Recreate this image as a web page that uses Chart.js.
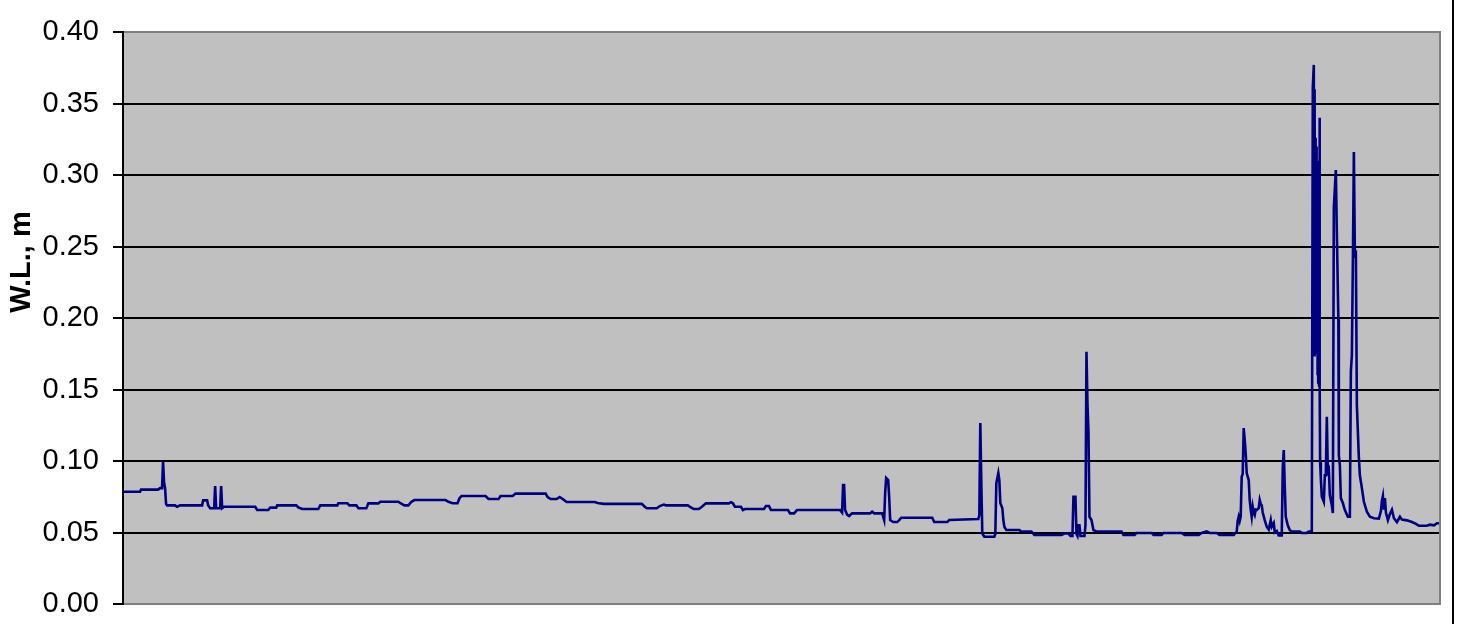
<!DOCTYPE html>
<html>
<head>
<meta charset="utf-8">
<script src="https://cdn.jsdelivr.net/npm/chart.js@4.4.1/dist/chart.umd.min.js"></script>
<style>
  body { margin: 0; background: #fff; }
  canvas { display: block; }
</style>
</head>
<body>
<canvas id="wl" width="1457" height="624"></canvas>
<script>
// sample number along the record
const samples = [
  0, 17, 18, 35, 37, 39, 40, 41, 42, 43, 44, 52, 54, 57, 79, 80, 84, 85, 87, 91,
  92, 93, 97, 98, 99, 101, 132, 134, 145, 147, 153, 154, 173, 175, 179, 195, 197, 214, 215, 224,
  226, 233, 235, 243, 245, 255, 257, 275, 277, 281, 285, 288, 291, 322, 325, 329, 334, 336, 338, 362,
  365, 375, 377, 389, 392, 422, 424, 427, 433, 436, 439, 443, 471, 474, 480, 518, 521, 523, 533, 536,
  540, 542, 564, 567, 570, 575, 578, 582, 605, 607, 609, 611, 617, 619, 621, 640, 642, 645, 647, 664,
  666, 670, 673, 716, 718, 719, 720, 721, 723, 725, 728, 746, 748, 750, 758, 760, 761, 762, 764, 765,
  766, 769, 773, 775, 777, 808, 810, 823, 825, 854, 855, 856, 857, 858, 860, 870, 871, 872, 874, 875,
  876, 878, 879, 880, 882, 895, 897, 907, 910, 937, 940, 944, 946, 948, 949, 951, 952, 953, 954, 955,
  956, 960, 961, 962, 963, 964, 965, 967, 969, 972, 997, 999, 1010, 1012, 1027, 1029, 1037, 1039, 1057, 1060,
  1074, 1077, 1082, 1085, 1092, 1095, 1109, 1112, 1113, 1114, 1115, 1116, 1117, 1118, 1119, 1120, 1121, 1122, 1124, 1125,
  1126, 1127, 1128, 1129, 1130, 1131, 1132, 1134, 1135, 1136, 1137, 1138, 1140, 1142, 1144, 1146, 1147, 1149, 1150, 1152,
  1154, 1157, 1158, 1159, 1160, 1161, 1163, 1165, 1167, 1175, 1177, 1182, 1184, 1187, 1188, 1189, 1189.4, 1189.8, 1190.2, 1190.6,
  1191, 1191.4, 1191.8, 1192.2, 1192.6, 1193, 1193.4, 1193.8, 1194.2, 1194.7, 1195, 1195.3, 1196, 1197, 1199, 1200, 1201, 1202, 1203, 1204,
  1205, 1207, 1208, 1209, 1211, 1212, 1213.5, 1214, 1215, 1216, 1218, 1220, 1223, 1225, 1226, 1227, 1228, 1229, 1230, 1231,
  1232, 1234, 1235, 1237, 1239, 1242, 1245, 1249, 1254, 1256, 1257, 1258, 1259, 1260, 1261, 1263, 1265, 1267, 1269, 1272,
  1275, 1277, 1282, 1287, 1291, 1294, 1302, 1305, 1309, 1312, 1315
];

// water level, m
const waterLevel = [
  0.0785, 0.0785, 0.080, 0.080, 0.081, 0.081, 0.0995, 0.085, 0.081, 0.070, 0.069, 0.069, 0.068, 0.069, 0.069, 0.0725, 0.0725, 0.069, 0.067, 0.067,
  0.0825, 0.067, 0.067, 0.0825, 0.067, 0.068, 0.068, 0.0657, 0.0657, 0.0674, 0.0674, 0.069, 0.069, 0.0675, 0.0664, 0.0664, 0.069, 0.069, 0.0705, 0.0705,
  0.069, 0.069, 0.067, 0.067, 0.0704, 0.0704, 0.0715, 0.0715, 0.0705, 0.069, 0.069, 0.0715, 0.0727, 0.0727, 0.0715, 0.0705, 0.0705, 0.074, 0.0755, 0.0755,
  0.0734, 0.0734, 0.0755, 0.0755, 0.0772, 0.0772, 0.0748, 0.0734, 0.0734, 0.0748, 0.0734, 0.0713, 0.0713, 0.0706, 0.070, 0.070, 0.068, 0.067, 0.067, 0.0685,
  0.0695, 0.069, 0.069, 0.0675, 0.0664, 0.0664, 0.068, 0.0704, 0.0704, 0.0712, 0.0704, 0.068, 0.068, 0.0657, 0.0664, 0.0664, 0.0685, 0.0685, 0.0657, 0.0657,
  0.0634, 0.0634, 0.0657, 0.0657, 0.064, 0.0832, 0.0832, 0.0657, 0.0625, 0.0615, 0.0634, 0.0634, 0.0645, 0.0634, 0.0634, 0.0587, 0.0776, 0.0881, 0.0867, 0.075,
  0.0587, 0.0573, 0.0573, 0.0587, 0.0603, 0.0603, 0.0573, 0.0573, 0.0587, 0.0594, 0.062, 0.1266, 0.085, 0.0493, 0.047, 0.047, 0.049, 0.0846, 0.0916, 0.0867,
  0.0706, 0.067, 0.0587, 0.054, 0.0517, 0.0517, 0.0507, 0.0507, 0.0483, 0.0483, 0.0493, 0.0493, 0.0476, 0.0476, 0.075, 0.075, 0.049, 0.0476, 0.055, 0.055,
  0.0476, 0.0476, 0.055, 0.1764, 0.140, 0.120, 0.061, 0.0587, 0.0517, 0.0507, 0.0507, 0.0483, 0.0483, 0.0497, 0.0497, 0.0483, 0.0483, 0.0497, 0.0497, 0.0483,
  0.0483, 0.0497, 0.0507, 0.0497, 0.0497, 0.0483, 0.0483, 0.0505, 0.058, 0.061, 0.058, 0.061, 0.089, 0.091, 0.123, 0.1147, 0.1056, 0.0916, 0.0867, 0.0727,
  0.066, 0.061, 0.068, 0.064, 0.0622, 0.066, 0.0657, 0.067, 0.0727, 0.070, 0.069, 0.064, 0.0587, 0.054, 0.052, 0.0587, 0.054, 0.0566, 0.050, 0.051,
  0.048, 0.048, 0.095, 0.1077, 0.082, 0.061, 0.055, 0.0517, 0.0507, 0.0507, 0.0497, 0.0497, 0.0507, 0.0507, 0.361, 0.377, 0.174, 0.360, 0.180, 0.326,
  0.175, 0.320, 0.200, 0.300, 0.160, 0.290, 0.155, 0.310, 0.153, 0.340, 0.153, 0.0995, 0.088, 0.075, 0.0715, 0.090, 0.090, 0.131, 0.0925, 0.094,
  0.0762, 0.069, 0.0636, 0.277, 0.3035, 0.260, 0.200, 0.104, 0.0972, 0.074, 0.0706, 0.0657, 0.061, 0.061, 0.1625, 0.174, 0.239, 0.316, 0.244, 0.245,
  0.139, 0.102, 0.090, 0.081, 0.0715, 0.0645, 0.061, 0.060, 0.0597, 0.065, 0.072, 0.0755, 0.066, 0.074, 0.064, 0.0587, 0.063, 0.066, 0.060, 0.0573,
  0.061, 0.059, 0.0585, 0.0573, 0.056, 0.0547, 0.0547, 0.0555, 0.055, 0.0565, 0.0565
];

const yTicks = [0, 0.05, 0.1, 0.15, 0.2, 0.25, 0.3, 0.35, 0.4];

const FONT = '"Liberation Sans", Arial, sans-serif';

// gray plot area, its frame, the outer frame line and the rotated axis title
const plotDecor = {
  id: 'plotDecor',
  beforeDraw(chart) {
    const { ctx, chartArea: a } = chart;
    ctx.save();
    ctx.fillStyle = '#c0c0c0';
    ctx.fillRect(a.left, a.top, a.right - a.left, a.bottom - a.top);
    ctx.restore();
  },
  afterDraw(chart) {
    const { ctx, chartArea: a } = chart;
    ctx.save();
    ctx.strokeStyle = '#808080';
    ctx.lineWidth = 2;
    ctx.beginPath();
    ctx.moveTo(a.left, a.top);
    ctx.lineTo(a.right, a.top);
    ctx.lineTo(a.right, a.bottom);
    ctx.lineTo(a.left, a.bottom);
    ctx.stroke();

    ctx.strokeStyle = '#000';
    ctx.beginPath();
    ctx.moveTo(a.left, a.top - 1);
    ctx.lineTo(a.left, a.bottom + 1);
    ctx.stroke();

    ctx.beginPath();
    ctx.moveTo(chart.width - 4, 0);
    ctx.lineTo(chart.width - 4, chart.height);
    ctx.stroke();

    ctx.translate(22, 262);
    ctx.rotate(-Math.PI / 2);
    ctx.fillStyle = '#000';
    ctx.font = 'bold 29px ' + FONT;
    ctx.textAlign = 'center';
    ctx.textBaseline = 'middle';
    ctx.fillText('W.L., m', 0, 0);
    ctx.restore();
  }
};

const points = samples.map((s, i) => ({ x: s, y: waterLevel[i] }));

new Chart(document.getElementById('wl').getContext('2d'), {
  type: 'line',
  data: {
    datasets: [{
      data: points,
      borderColor: '#000080',
      borderWidth: 2.6,
      pointRadius: 0,
      tension: 0,
      fill: false
    }]
  },
  options: {
    responsive: false,
    animation: false,
    devicePixelRatio: 1,
    layout: { padding: { left: 0, top: 32, right: 17, bottom: 20 } },
    plugins: { legend: { display: false }, tooltip: { enabled: false } },
    scales: {
      x: {
        type: 'linear',
        min: 0,
        max: 1315,
        display: false
      },
      y: {
        min: 0,
        max: 0.4,
        afterFit(scale) {
          scale.width = 123;
          // labels may overhang the plot; the layout padding already leaves room
          scale.paddingTop = 0;
          scale.paddingBottom = 0;
        },
        afterBuildTicks(scale) { scale.ticks = yTicks.map(v => ({ value: v })); },
        border: { display: true, color: '#000', width: 2 },
        grid: {
          color: ctx => (ctx.tick && (ctx.tick.value === 0 || ctx.tick.value === 0.4)) ? '#808080' : '#000',
          lineWidth: 2,
          tickLength: 10,
          tickColor: '#000',
          tickWidth: 2
        },
        ticks: {
          color: '#000',
          padding: 14,
          font: { family: FONT, size: 29 },
          callback: v => Number(v).toFixed(2)
        }
      }
    }
  },
  plugins: [plotDecor]
});
</script>
</body>
</html>
